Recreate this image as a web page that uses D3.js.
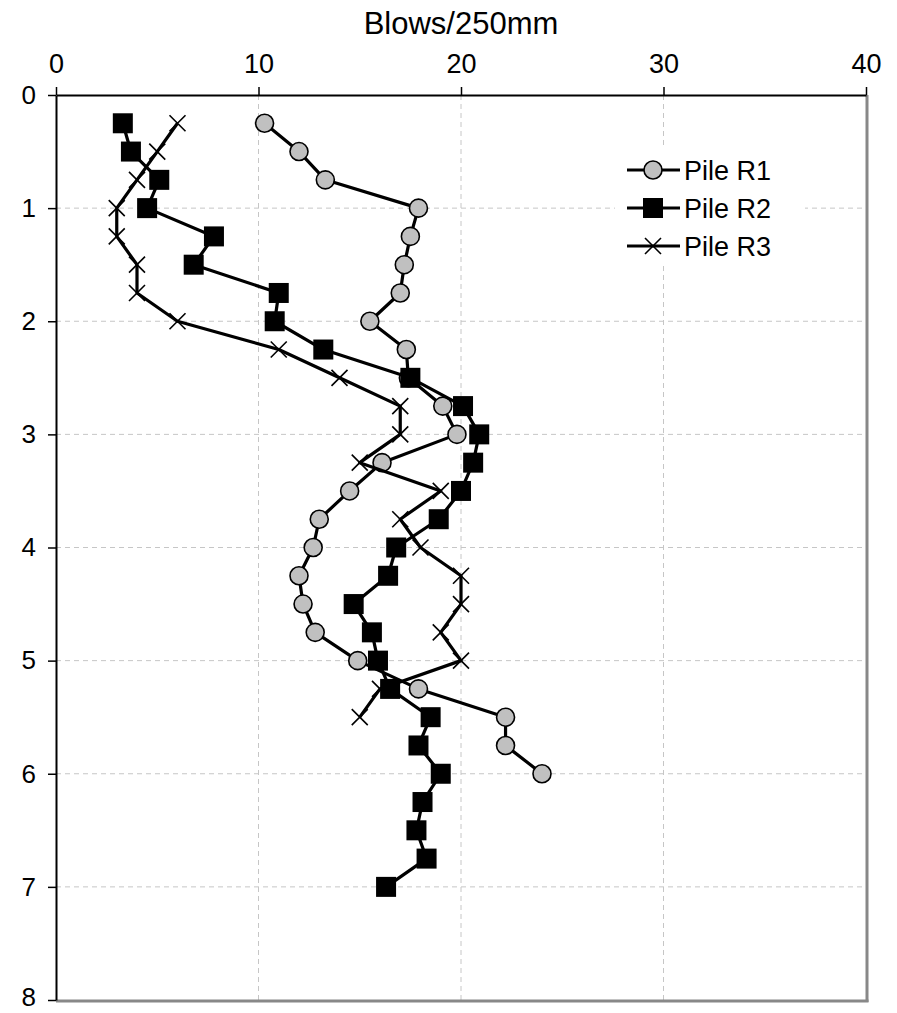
<!DOCTYPE html>
<html><head><meta charset="utf-8">
<script src="https://cdn.jsdelivr.net/npm/d3@7"></script>
<style>
body{margin:0;background:#fff}
text{font-family:"Liberation Sans",Arial,sans-serif;fill:#000}
</style>
</head><body>
<svg id="c" width="897" height="1013"></svg>
<script>
// ---- data ----
const axisTitle = "Blows/250mm";
const xTicks = [0, 10, 20, 30, 40];
const yTicks = [0, 1, 2, 3, 4, 5, 6, 7, 8];
const seriesNames = ["Pile R1", "Pile R2", "Pile R3"];
const depthR1 = [0.25,0.5,0.75,1,1.25,1.5,1.75,2,2.25,2.5,2.75,3,3.25,3.5,3.75,4,4.25,4.5,4.75,5,5.25,5.5,5.75,6];
const blowsR1 = [10.3,12.0,13.3,17.9,17.5,17.2,17.0,15.5,17.3,17.4,19.1,19.8,16.1,14.5,13.0,12.7,12.0,12.2,12.8,14.9,17.9,22.2,22.2,24.0];
const depthR2 = [0.25,0.5,0.75,1,1.25,1.5,1.75,2,2.25,2.5,2.75,3,3.25,3.5,3.75,4,4.25,4.5,4.75,5,5.25,5.5,5.75,6,6.25,6.5,6.75,7];
const blowsR2 = [3.3,3.7,5.1,4.5,7.8,6.8,11.0,10.8,13.2,17.5,20.1,20.9,20.6,20.0,18.9,16.8,16.4,14.7,15.6,15.9,16.5,18.5,17.9,19.0,18.1,17.8,18.3,16.3];
const depthR3 = [0.25,0.5,0.75,1,1.25,1.5,1.75,2,2.25,2.5,2.75,3,3.25,3.5,3.75,4,4.25,4.5,4.75,5,5.25,5.5];
const blowsR3 = [6,5,4,3,3,4,4,6,11,14,17,17,15,19,17,18,20,20,19,20,16,15];

// ---- layout ----
const L = 56, R = 866, T = 95, B = 1000;
const svg = d3.select("#c");
const x = d3.scaleLinear().domain([0, 40]).range([L, R]);
const y = d3.scaleLinear().domain([0, 8]).range([T, B]);

// gridlines
const g = svg.append("g");
g.selectAll(".gx").data(xTicks.filter(t => t > 0 && t < 40)).join("line")
  .attr("x1", d => x(d)).attr("x2", d => x(d)).attr("y1", T).attr("y2", B)
  .attr("stroke", "#c6c6c6").attr("stroke-width", 1).attr("stroke-dasharray", "5,4");
g.selectAll(".gy").data(yTicks.filter(t => t > 0 && t < 8)).join("line")
  .attr("y1", d => y(d)).attr("y2", d => y(d)).attr("x1", L).attr("x2", R)
  .attr("stroke", "#c6c6c6").attr("stroke-width", 1).attr("stroke-dasharray", "5,4");

// frame (right & bottom gray)
svg.append("line").attr("x1", R + 1).attr("x2", R + 1).attr("y1", T).attr("y2", B + 2)
  .attr("stroke", "#888").attr("stroke-width", 3);
svg.append("line").attr("x1", L).attr("x2", R + 2.5).attr("y1", B + 1).attr("y2", B + 1)
  .attr("stroke", "#888").attr("stroke-width", 3);

// axes
const xAxis = d3.axisTop(x).tickValues(xTicks).tickSize(8).tickPadding(14).tickSizeOuter(0);
const xa = svg.append("g").attr("transform", `translate(0,${T})`).call(xAxis);
const yAxis = d3.axisLeft(y).tickValues(yTicks).tickSize(8).tickPadding(12).tickSizeOuter(0);
const ya = svg.append("g").attr("transform", `translate(${L},0)`).call(yAxis);
[xa, ya].forEach(a => {
  a.select(".domain").attr("stroke", "#000").attr("stroke-width", 2);
  a.selectAll(".tick line").attr("stroke", "#000").attr("stroke-width", 1.5);
  a.selectAll(".tick text").attr("font-size", 27).attr("font-family", '"Liberation Sans",Arial,sans-serif').attr("fill", "#000");
});
ya.selectAll(".tick text").attr("font-size", 26).attr("dy", "0.32em");
ya.selectAll(".tick").filter(d => d === 8).select("text").attr("dy", "0.2em");

svg.append("text").attr("x", 461).attr("y", 34).attr("text-anchor", "middle")
  .attr("font-size", 31).text(axisTitle);

// markers
function drawMarker(sel, type) {
  if (type === 0) {
    sel.append("circle").attr("r", 9).attr("fill", "#c0c0c0").attr("stroke", "#000").attr("stroke-width", 1.6);
  } else if (type === 1) {
    sel.append("rect").attr("x", -10).attr("y", -10).attr("width", 20).attr("height", 20).attr("fill", "#000");
  } else {
    sel.append("path").attr("d", "M-8,-8L8,8M-8,8L8,-8").attr("stroke", "#000").attr("stroke-width", 1.6).attr("fill", "none");
  }
}

const series = [
  {name: seriesNames[0], pts: depthR1.map((d, i) => ({d, v: blowsR1[i]}))},
  {name: seriesNames[1], pts: depthR2.map((d, i) => ({d, v: blowsR2[i]}))},
  {name: seriesNames[2], pts: depthR3.map((d, i) => ({d, v: blowsR3[i]}))}
];
const line = d3.line().x(p => x(p.v)).y(p => y(p.d));
series.forEach((s, k) => {
  const sg = svg.append("g");
  sg.append("path").attr("d", line(s.pts)).attr("fill", "none").attr("stroke", "#000")
    .attr("stroke-width", 3.2).attr("stroke-linejoin", "round");
  s.pts.forEach(p => {
    const m = sg.append("g").attr("transform", `translate(${x(p.v)},${y(p.d)})`);
    drawMarker(m, k);
  });
});

// legend
const lg = svg.append("g");
lg.append("rect").attr("x", 615).attr("y", 148).attr("width", 190).attr("height", 118).attr("fill", "#fff");
const legY = [170, 208, 246];
series.forEach((s, k) => {
  const row = lg.append("g").attr("transform", `translate(0,${legY[k]})`);
  row.append("line").attr("x1", 627).attr("x2", 680).attr("y1", 0).attr("y2", 0)
    .attr("stroke", "#000").attr("stroke-width", 3);
  drawMarker(row.append("g").attr("transform", "translate(653,0)"), k);
  row.append("text").attr("x", 684).attr("y", 0).attr("dy", "0.36em").attr("font-size", 27).text(s.name);
});
</script>
</body></html>
